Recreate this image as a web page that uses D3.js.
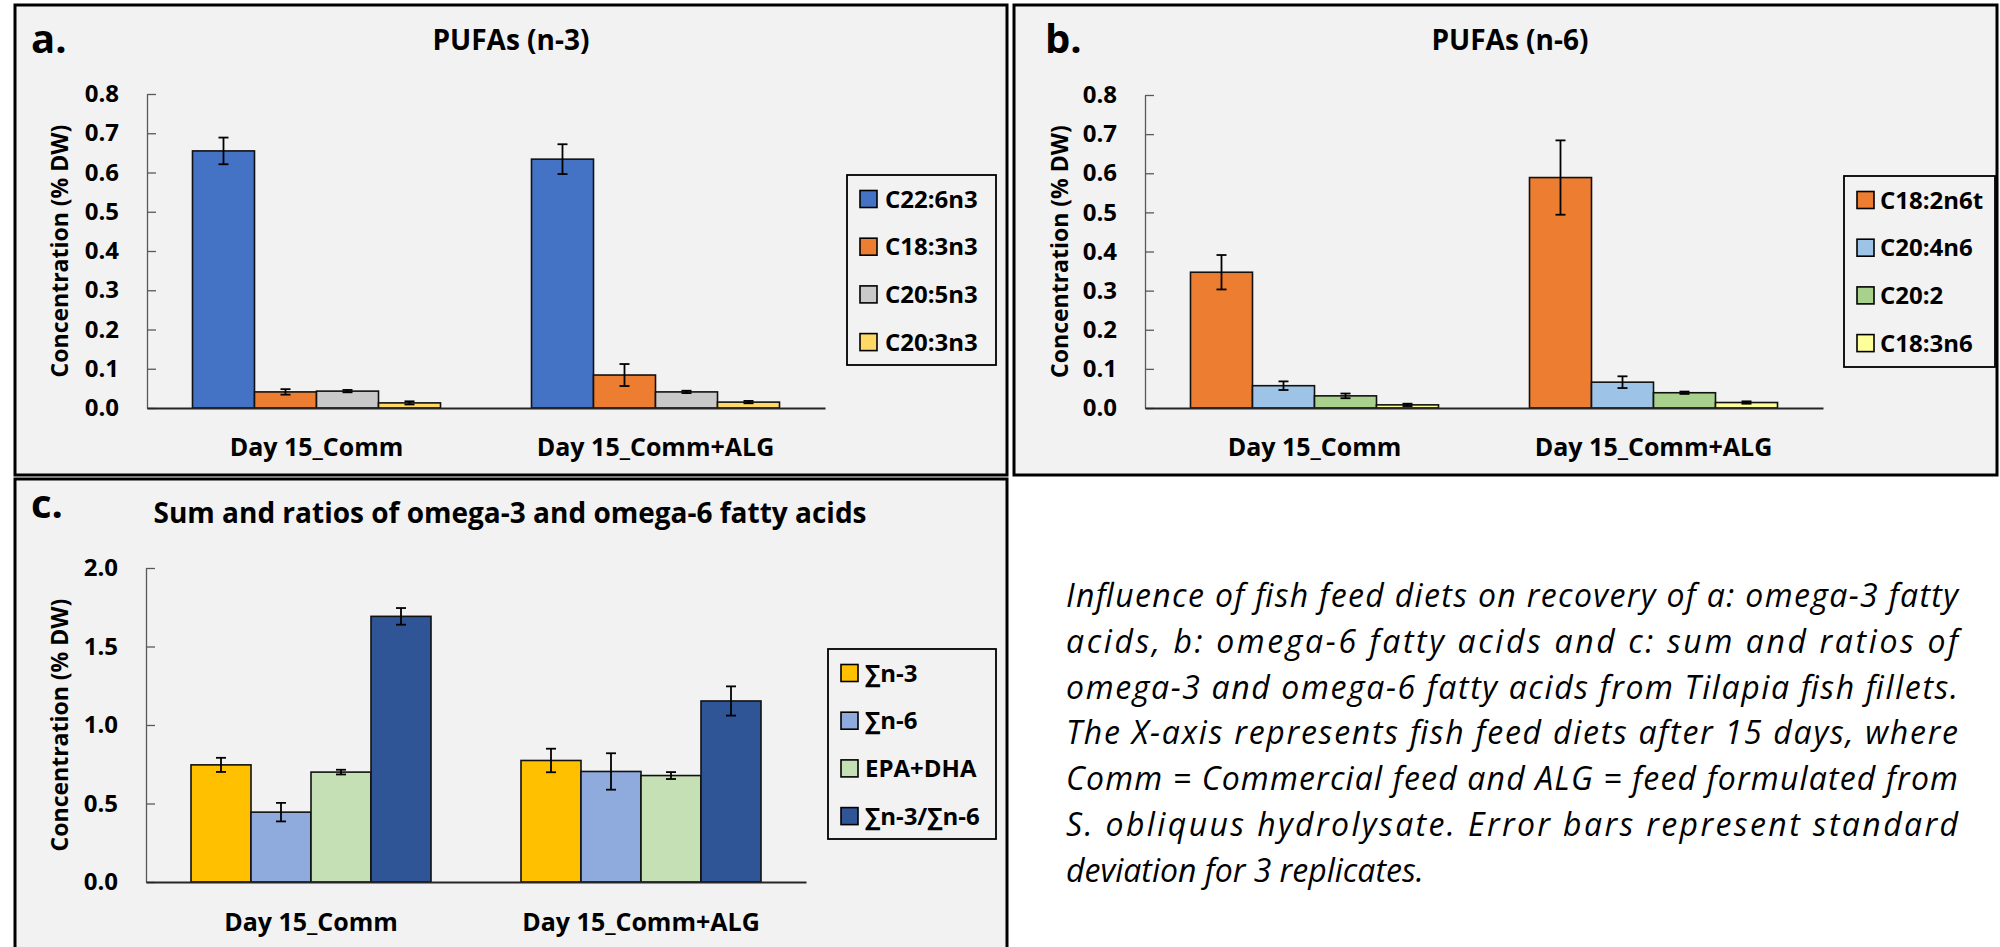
<!DOCTYPE html>
<html>
<head>
<meta charset="utf-8">
<script src="https://cdn.jsdelivr.net/npm/d3@7"></script>
<style>
  body { margin: 0; background: #ffffff; }
  svg text { font-family: "Open Sans", sans-serif; font-weight: bold; fill: #000; }
  .caption text { font-family: "Open Sans", sans-serif; font-style: italic; font-weight: normal; }
</style>
</head>
<body>
<div id="chart"></div>
<script>
var groups = ['Day 15_Comm', 'Day 15_Comm+ALG'];

// panel a, PUFAs (n-3)
var n3Series = ['C22:6n3', 'C18:3n3', 'C20:5n3', 'C20:3n3'];
var n3Comm = [0.655, 0.041, 0.043, 0.013];
var n3Alg = [0.634, 0.084, 0.041, 0.015];
var n3ErrComm = [0.034, 0.007, 0.003, 0.004];
var n3ErrAlg = [0.038, 0.028, 0.003, 0.003];

// panel b, PUFAs (n-6)
var n6Series = ['C18:2n6t', 'C20:4n6', 'C20:2', 'C18:3n6'];
var n6Comm = [0.347, 0.057, 0.031, 0.008];
var n6Alg = [0.589, 0.066, 0.039, 0.014];
var n6ErrComm = [0.044, 0.011, 0.006, 0.003];
var n6ErrAlg = [0.095, 0.015, 0.003, 0.003];

// panel c, sums and ratio
var sumSeries = ['\u2211n-3', '\u2211n-6', 'EPA+DHA', '\u2211n-3/\u2211n-6'];
var sumComm = [0.746, 0.445, 0.700, 1.692];
var sumAlg = [0.774, 0.704, 0.678, 1.153];
var sumErrComm = [0.045, 0.059, 0.015, 0.053];
var sumErrAlg = [0.075, 0.116, 0.022, 0.093];

var ticks08 = [0, 0.1, 0.2, 0.3, 0.4, 0.5, 0.6, 0.7, 0.8];
var ticks20 = [0, 0.5, 1.0, 1.5, 2.0];

var captionLines = [
    'Influence of fish feed diets on recovery of a: omega-3 fatty',
    'acids, b: omega-6 fatty acids and c: sum and ratios of',
    'omega-3 and omega-6 fatty acids from Tilapia fish fillets.',
    'The X-axis represents fish feed diets after 15 days, where',
    'Comm = Commercial feed and ALG = feed formulated from',
    'S. obliquus hydrolysate. Error bars represent standard',
    'deviation for 3 replicates.'
];

var svg = d3.select('#chart')
    .append('svg')
    .attr('width', 2000)
    .attr('height', 947);

function drawPanel(p) {
    var g = svg.append('g');

    g.append('rect')
        .attr('x', p.box[0])
        .attr('y', p.box[1])
        .attr('width', p.box[2])
        .attr('height', p.box[3])
        .attr('fill', '#f2f2f2')
        .attr('stroke', '#000')
        .attr('stroke-width', 3);

    g.append('text')
        .attr('x', p.letterPos[0])
        .attr('y', p.letterPos[1])
        .style('font-size', '40px')
        .text(p.letter);

    g.append('text')
        .attr('x', p.titlePos[0])
        .attr('y', p.titlePos[1])
        .attr('text-anchor', 'middle')
        .style('font-size', '28px')
        .text(p.title);

    var x = d3.scaleBand()
        .domain(groups)
        .range([p.left, p.right])
        .paddingInner(p.pad)
        .paddingOuter(p.pad / 2);

    var xIn = d3.scaleBand()
        .domain(p.series)
        .range([0, x.bandwidth()]);

    var y = d3.scaleLinear()
        .domain([0, p.max])
        .range([p.bottom, p.top]);

    var rows = [];
    groups.forEach(function(grp, gi) {
        p.series.forEach(function(s, si) {
            rows.push({group: grp, series: s, color: p.colors[si],
                       value: p.values[gi][si], err: p.errors[gi][si]});
        });
    });

    // y axis, ticks pointing into the plot
    var yAxis = d3.axisLeft(y)
        .tickValues(p.ticks)
        .tickFormat(d3.format('.1f'))
        .tickSizeInner(-9)
        .tickSizeOuter(0)
        .tickPadding(28);

    var ya = g.append('g')
        .attr('transform', `translate(${p.left},0)`)
        .call(yAxis);
    ya.select('.domain').attr('stroke', '#595959').attr('stroke-width', 1.3);
    ya.selectAll('.tick line').attr('stroke', '#595959').attr('stroke-width', 1.3);
    ya.selectAll('.tick text')
        .style('font-size', '24px')
        .style('font-family', '"Open Sans", sans-serif')
        .style('font-weight', 'bold')
        .attr('fill', '#000');

    g.append('text')
        .attr('transform', `translate(${p.yLabelX},${(p.top + p.bottom) / 2}) rotate(-90)`)
        .attr('text-anchor', 'middle')
        .attr('dy', '0.35em')
        .style('font-size', '23px')
        .text('Concentration (% DW)');

    // bars
    g.selectAll('.bar')
        .data(rows).enter()
        .append('rect')
        .attr('class', 'bar')
        .attr('x', function(d) { return x(d.group) + xIn(d.series); })
        .attr('y', function(d) { return y(d.value); })
        .attr('width', xIn.bandwidth())
        .attr('height', function(d) { return y(0) - y(d.value); })
        .attr('fill', function(d) { return d.color; })
        .attr('stroke', '#111')
        .attr('stroke-width', 1.6);

    // error bars
    var eb = g.selectAll('.err')
        .data(rows).enter()
        .append('g')
        .attr('class', 'err')
        .attr('transform', function(d) {
            return `translate(${x(d.group) + xIn(d.series) + xIn.bandwidth() / 2},0)`;
        });
    eb.append('line')
        .attr('y1', function(d) { return y(d.value + d.err); })
        .attr('y2', function(d) { return y(d.value - d.err); })
        .attr('stroke', '#000').attr('stroke-width', 1.8);
    eb.append('line')
        .attr('x1', -5).attr('x2', 5)
        .attr('y1', function(d) { return y(d.value + d.err); })
        .attr('y2', function(d) { return y(d.value + d.err); })
        .attr('stroke', '#000').attr('stroke-width', 1.8);
    eb.append('line')
        .attr('x1', -5).attr('x2', 5)
        .attr('y1', function(d) { return y(d.value - d.err); })
        .attr('y2', function(d) { return y(d.value - d.err); })
        .attr('stroke', '#000').attr('stroke-width', 1.8);

    // x axis
    var xa = g.append('g')
        .attr('transform', `translate(0,${p.bottom})`)
        .call(d3.axisBottom(x).tickSize(0).tickPadding(p.xPad));
    xa.select('.domain').attr('stroke', '#262626').attr('stroke-width', 1.8);
    xa.selectAll('.tick text')
        .style('font-size', '25px')
        .style('font-family', '"Open Sans", sans-serif')
        .style('font-weight', 'bold')
        .attr('fill', '#000');

    // legend
    var lg = g.append('g');
    lg.append('rect')
        .attr('x', p.legend[0])
        .attr('y', p.legend[1])
        .attr('width', p.legend[2])
        .attr('height', p.legend[3])
        .attr('fill', 'none')
        .attr('stroke', '#000')
        .attr('stroke-width', 1.8);

    var item = lg.selectAll('.legend')
        .data(p.series).enter()
        .append('g')
        .attr('class', 'legend')
        .attr('transform', function(d, i) {
            return `translate(${p.legend[0] + 13},${p.legend[1] + 24 + i * 47.7})`;
        });
    item.append('rect')
        .attr('x', 0)
        .attr('y', -8.5)
        .attr('width', 17)
        .attr('height', 17)
        .attr('fill', function(d, i) { return p.colors[i]; })
        .attr('stroke', '#000')
        .attr('stroke-width', 1.6);
    item.append('text')
        .attr('x', p.legendTextDx)
        .attr('dy', '0.36em')
        .style('font-size', '24px')
        .text(function(d) { return d; });
}

drawPanel({
    box: [15, 5, 992, 470],
    letter: 'a.', letterPos: [31, 53],
    title: 'PUFAs (n-3)', titlePos: [511, 50],
    left: 147, right: 825, top: 94, bottom: 408, pad: 0.2684,
    max: 0.8, ticks: ticks08, yLabelX: 60, xPad: 30,
    series: n3Series,
    colors: ['#4472c4', '#ed7d31', '#c9c9c9', '#ffd966'],
    values: [n3Comm, n3Alg], errors: [n3ErrComm, n3ErrAlg],
    legend: [847, 175, 149, 190], legendTextDx: 25
});

drawPanel({
    box: [1014, 5, 983, 470],
    letter: 'b.', letterPos: [1045, 53],
    title: 'PUFAs (n-6)', titlePos: [1510, 50],
    left: 1145, right: 1823, top: 95, bottom: 408, pad: 0.2684,
    max: 0.8, ticks: ticks08, yLabelX: 1060, xPad: 30,
    series: n6Series,
    colors: ['#ed7d31', '#9dc3e6', '#a9d18e', '#ffff99'],
    values: [n6Comm, n6Alg], errors: [n6ErrComm, n6ErrAlg],
    legend: [1844, 176, 151, 191], legendTextDx: 23
});

drawPanel({
    box: [15, 479, 992, 475],
    letter: 'c.', letterPos: [31, 518],
    title: 'Sum and ratios of omega-3 and omega-6 fatty acids', titlePos: [510, 523],
    left: 146, right: 806, top: 568, bottom: 882, pad: 0.2727,
    max: 2.0, ticks: ticks20, yLabelX: 60, xPad: 31,
    series: sumSeries,
    colors: ['#ffc000', '#8faadc', '#c5e0b4', '#2f5597'],
    values: [sumComm, sumAlg], errors: [sumErrComm, sumErrAlg],
    legend: [828, 649, 168, 190], legendTextDx: 24
});

// caption, justified line by line
var cap = svg.append('g').attr('class', 'caption');
cap.selectAll('text')
    .data(captionLines).enter()
    .append('text')
    .attr('x', 1066)
    .attr('y', function(d, i) { return 607 + i * 45.8; })
    .attr('textLength', function(d, i) { return i < captionLines.length - 1 ? 892 : null; })
    .attr('lengthAdjust', 'spacing')
    .style('font-size', '32px')
    .text(function(d) { return d; });
</script>
</body>
</html>
